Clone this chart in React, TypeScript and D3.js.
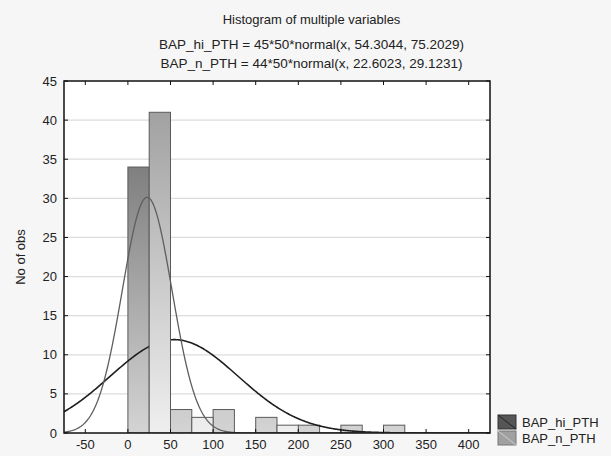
import React from "react";
import * as d3 from "d3";

// bins of width 50, each split into two half-width bars
const binStarts = [0, 50, 100, 150, 200, 250, 300];
const hiCounts = [34, 3, 3, 2, 1, 1, 1];
const nCounts = [41, 2, 0, 1, 0, 0, 0];
const xTicks = [-50, 0, 50, 100, 150, 200, 250, 300, 350, 400];
const yTicks = [0, 5, 10, 15, 20, 25, 30, 35, 40, 45];
const hiFit = { n: 45, width: 50, mean: 54.3044, sd: 75.2029 };
const nFit = { n: 44, width: 50, mean: 22.6023, sd: 29.1231 };
const series = ["BAP_hi_PTH", "BAP_n_PTH"];

const W = 611;
const H = 456;
const m = { left: 64, right: 121, top: 81, bottom: 23 };

const normal = (f: typeof hiFit, x: number) =>
  (f.n * f.width * Math.exp(-0.5 * ((x - f.mean) / f.sd) ** 2)) / (f.sd * Math.sqrt(2 * Math.PI));

export default function App() {
  const x = d3.scaleLinear().domain([-75, 425]).range([m.left, W - m.right]);
  const y = d3.scaleLinear().domain([0, 45]).range([H - m.bottom, m.top]);
  const font = "'Liberation Sans', Arial, sans-serif";

  const xs = d3.range(-75, 425.1, 1);
  const line = (f: typeof hiFit) =>
    d3.line<number>().x((d) => x(d)).y((d) => y(normal(f, d)))(xs) || "";

  const bars = (counts: number[], offset: number, fill: string) =>
    binStarts.map((b, i) =>
      counts[i] > 0 ? (
        <rect
          key={i}
          x={x(b + offset)}
          y={y(counts[i])}
          width={x(b + offset + 25) - x(b + offset)}
          height={y(0) - y(counts[i])}
          fill={fill}
          stroke="#5a5a5a"
          strokeWidth={1}
        />
      ) : null
    );

  return (
    <svg width={W} height={H} style={{ position: "absolute", left: 0, top: 0, background: "#f6f6f6" }}>
      <defs>
        <linearGradient id="gHi" gradientUnits="userSpaceOnUse" x1="0" y1={y(45)} x2="0" y2={y(0)}>
          <stop offset="0" stopColor="#646464" />
          <stop offset="1" stopColor="#d4d4d4" />
        </linearGradient>
        <linearGradient id="gN" gradientUnits="userSpaceOnUse" x1="0" y1={y(45)} x2="0" y2={y(0)}>
          <stop offset="0" stopColor="#9a9a9a" />
          <stop offset="1" stopColor="#efefef" />
        </linearGradient>
        <clipPath id="plot">
          <rect x={m.left} y={m.top} width={W - m.left - m.right} height={H - m.top - m.bottom} />
        </clipPath>
      </defs>

      <text x={W / 2 + 6} y={24} textAnchor="middle" fontFamily={font} fontSize={13} fill="#222">
        Histogram of multiple variables
      </text>
      <text x={W / 2 + 6} y={49} textAnchor="middle" fontFamily={font} fontSize={13.5} fill="#222">
        BAP_hi_PTH = 45*50*normal(x, 54.3044, 75.2029)
      </text>
      <text x={W / 2 + 6} y={68} textAnchor="middle" fontFamily={font} fontSize={13.5} fill="#222">
        BAP_n_PTH = 44*50*normal(x, 22.6023, 29.1231)
      </text>

      <rect x={m.left} y={m.top} width={W - m.left - m.right} height={H - m.top - m.bottom} fill="#fff" />

      {yTicks.slice(1, -1).map((t) => (
        <line key={t} x1={m.left} x2={W - m.right} y1={y(t)} y2={y(t)} stroke="#dcdcdc" strokeWidth={1.2} />
      ))}

      <g clipPath="url(#plot)">
        {bars(hiCounts, 0, "url(#gHi)")}
        <path d={line(hiFit)} fill="none" stroke="#1e1e1e" strokeWidth={1.6} />
        {bars(nCounts, 25, "url(#gN)")}
        <path d={line(nFit)} fill="none" stroke="#5e5e5e" strokeWidth={1.3} />
      </g>

      <rect
        x={m.left}
        y={m.top}
        width={W - m.left - m.right}
        height={H - m.top - m.bottom}
        fill="none"
        stroke="#111"
        strokeWidth={1.5}
      />

      {xTicks.map((t) => (
        <g key={t}>
          <line x1={x(t)} x2={x(t)} y1={y(0)} y2={y(0) - 4} stroke="#111" />
          <line x1={x(t)} x2={x(t)} y1={y(45)} y2={y(45) + 4} stroke="#111" />
          <text x={x(t)} y={y(0) + 16} textAnchor="middle" fontFamily={font} fontSize={13} fill="#222">
            {t}
          </text>
        </g>
      ))}
      {yTicks.map((t) => (
        <g key={t}>
          <line x1={m.left} x2={m.left + 4} y1={y(t)} y2={y(t)} stroke="#111" />
          <line x1={W - m.right} x2={W - m.right - 4} y1={y(t)} y2={y(t)} stroke="#111" />
          <text x={m.left - 7} y={y(t) + 4.5} textAnchor="end" fontFamily={font} fontSize={13} fill="#222">
            {t}
          </text>
        </g>
      ))}

      <text
        transform={`translate(25, ${(m.top + H - m.bottom) / 2}) rotate(-90)`}
        textAnchor="middle"
        fontFamily={font}
        fontSize={13}
        fill="#222"
      >
        No of obs
      </text>

      {series.map((s, i) => (
        <g key={s} transform={`translate(498, ${424 + i * 16})`}>
          <rect x={0} y={-9} width={18} height={14} fill={i === 0 ? "#555" : "#a0a0a0"} stroke={i === 0 ? "#333" : "#777"} />
          <line x1={0} y1={-9} x2={18} y2={5} stroke={i === 0 ? "#222" : "#cfcfcf"} />
          <text x={24} y={3} fontFamily={font} fontSize={13} fill="#222">
            {s}
          </text>
        </g>
      ))}
    </svg>
  );
}
